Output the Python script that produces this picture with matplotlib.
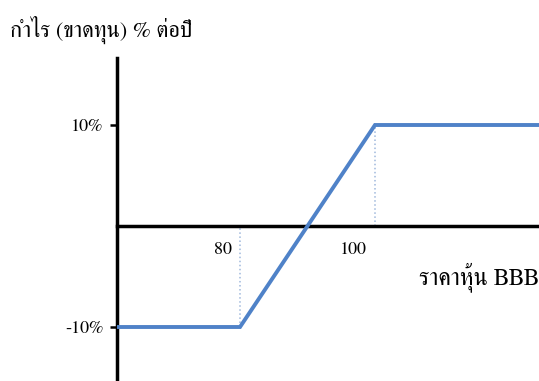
import matplotlib
matplotlib.use("Agg")
import matplotlib.pyplot as plt

# payoff of a capped position: -10% below 80, +10% above 100
price = [50, 80, 100, 140]
profit = [-10, -10, 10, 10]
ytick_vals = [10, -10]
ytick_labels = ["10%", "-10%"]
xtick_vals = [80, 100]
xtick_labels = ["80", "100"]
title_txt = "กำไร (ขาดทุน) % ต่อปี"
xlabel_txt = "ราคาหุ้น BBB"

plt.rcParams["font.family"] = ["FreeSerif", "Liberation Serif", "DejaVu Serif"]

fig = plt.figure(figsize=(5.39, 3.81), dpi=100)
ax = fig.add_axes([117 / 539, 0, 1 - 117 / 539, 1 - 58 / 381])
ax.set_xlim(80 - 123 / 6.75, 100 + 164 / 6.75)
ax.set_ylim(-155 / 10.1, 168 / 10.1)

ax.plot(price, profit, color="#4f82c8", lw=2.8, solid_joinstyle="miter", zorder=3)

# guide lines at the corners
ax.plot([xtick_vals[0]] * 2, [profit[1], 0], color="#9fb8dc", lw=1.1, ls=":", zorder=2)
ax.plot([xtick_vals[1]] * 2, [0, profit[2]], color="#9fb8dc", lw=1.1, ls=":", zorder=2)

for s in ["top", "right"]:
    ax.spines[s].set_visible(False)
ax.spines["bottom"].set_position(("data", 0))
ax.spines["left"].set_linewidth(2.5)
ax.spines["bottom"].set_linewidth(2.5)

ax.set_yticks(ytick_vals)
ax.set_yticklabels(ytick_labels, fontsize=13)
ax.tick_params(axis="y", length=5, width=1.8, pad=5, direction="out")
ax.set_xticks([])

for v, lab in zip(xtick_vals, xtick_labels):
    ax.annotate(lab, (v, 0), xytext=(-8, -16), textcoords="offset pixels",
                ha="right", va="top", fontsize=13)

fig.text(10 / 539, 1 - 30 / 381, title_txt, ha="left", va="center", fontsize=16)
fig.text(1.0, 1 - 277 / 381, xlabel_txt, ha="right", va="center", fontsize=17)

fig.savefig("out.png", dpi=100)
